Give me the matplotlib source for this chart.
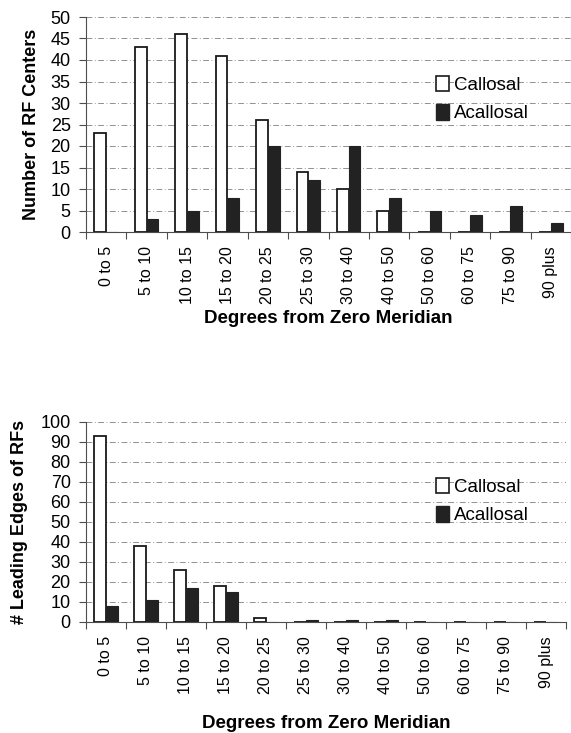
import numpy as np
import matplotlib
matplotlib.use("Agg")
import matplotlib.pyplot as plt
from matplotlib.patches import Patch

plt.rcParams['font.family'] = ['Liberation Sans', 'DejaVu Sans']

# ==================== data ====================
categories = ["0 to 5", "5 to 10", "10 to 15", "15 to 20", "20 to 25", "25 to 30",
              "30 to 40", "40 to 50", "50 to 60", "60 to 75", "75 to 90", "90 plus"]

# top panel: RF centers
centers_callosal = [23, 43, 46, 41, 26, 14, 10, 5, 0, 0, 0, 0]
centers_acallosal = [0, 3, 5, 8, 20, 12, 20, 8, 5, 4, 6, 2]

# bottom panel: leading edges
edges_callosal = [93, 38, 26, 18, 2, 0, 0, 0, 0, 0, 0, 0]
edges_acallosal = [8, 11, 17, 15, 0, 1, 1, 1, 0, 0, 0, 0]

W, H = 571, 733
fig = plt.figure(figsize=(W / 100, H / 100), dpi=100)


def px_axes(left, top, right, bottom):
    return fig.add_axes([left / W, 1 - bottom / H, (right - left) / W, (bottom - top) / H])


def draw_panel(ax, callosal, acallosal, ymax, ystep, ylabel, ylab_x, xlab_y, legend_y):
    x = np.arange(len(categories))
    bw = 0.29
    ax.bar(x - bw / 2, callosal, bw, color='white', edgecolor='#1a1a1a', linewidth=1.3, zorder=3)
    ax.bar(x + bw / 2, acallosal, bw, color='#222222', edgecolor='#222222', linewidth=0.8, zorder=3)

    ax.set_xlim(-0.5, len(categories) - 0.5)
    ax.set_ylim(0, ymax)
    ax.set_yticks(np.arange(0, ymax + 1, ystep))
    ax.set_xticks(x)
    ax.set_xticklabels(categories, rotation=90, fontsize=11.5)
    ax.set_xticks(np.arange(-0.5, len(categories), 1), minor=True)
    ax.tick_params(axis='x', which='major', length=0, pad=10)
    ax.tick_params(axis='x', which='minor', length=5, width=0.8, color='0.3', direction='out')
    ax.tick_params(axis='y', length=5, width=0.8, color='0.3', labelsize=13, pad=6)

    # excel style dash-dot grid
    ax.yaxis.grid(True, color='0.5', linestyle=(0, (7, 3, 1, 3)), linewidth=0.6, zorder=0)
    ax.set_axisbelow(True)
    for s in ['top', 'right']:
        ax.spines[s].set_visible(False)
    for s in ['left', 'bottom']:
        ax.spines[s].set_color('0.3')
        ax.spines[s].set_linewidth(0.8)

    ax.set_ylabel(ylabel, fontsize=13, fontweight='bold', va='center')
    ax.yaxis.set_label_coords(ylab_x, 0.5)
    ax.set_xlabel('Degrees from Zero Meridian', fontsize=13.5, fontweight='bold')
    ax.xaxis.label.set_va('center')
    ax.xaxis.set_label_coords(0.5, xlab_y)

    handles = [Patch(facecolor='white', edgecolor='#1a1a1a', linewidth=1.2, label='Callosal'),
               Patch(facecolor='#222222', edgecolor='#222222', label='Acallosal')]
    leg = ax.legend(handles=handles, loc='upper left', frameon=False, fontsize=13.5,
                    handlelength=0.7, handleheight=0.9, handletextpad=0.3, labelspacing=0.55,
                    borderaxespad=0, bbox_to_anchor=(428 / W, 1 - legend_y / H),
                    bbox_transform=fig.transFigure)
    return leg


ax1 = px_axes(86, 17, 571, 232)
draw_panel(ax1, centers_callosal, centers_acallosal, 50, 5, 'Number of RF Centers',
           -0.113, -0.40, 68)

ax2 = px_axes(86, 422, 566, 622)
draw_panel(ax2, edges_callosal, edges_acallosal, 100, 10, '# Leading Edges of RFs',
           -0.1375, -0.505, 470)

fig.savefig('out.png', dpi=100)
